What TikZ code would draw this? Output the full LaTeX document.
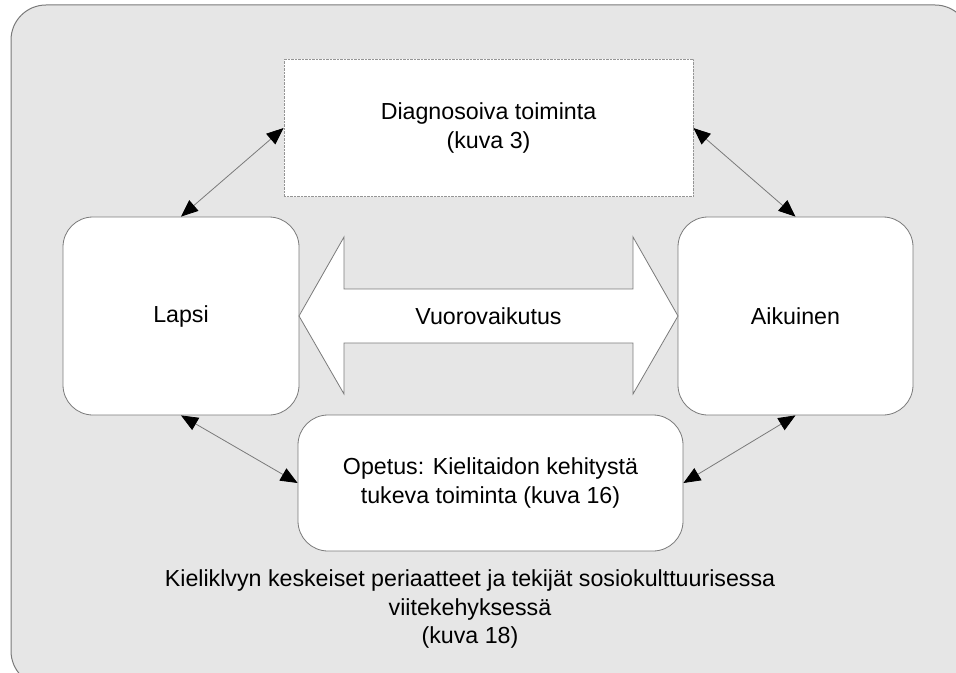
\documentclass[tikz,border=0pt]{standalone}
\usepackage{fontspec}
\setmainfont{Liberation Sans}
\usetikzlibrary{arrows.meta}
\definecolor{panel}{HTML}{E6E6E6}
\definecolor{edge}{HTML}{7A7A7A}
\begin{document}
\begin{tikzpicture}[x=1bp,y=-1bp,
  every node/.style={font=\fontsize{23.3}{29}\selectfont, align=center, inner sep=0pt},
  roundbox/.style={draw=edge, line width=0.8bp, fill=white, rounded corners=30bp},
  dotbox/.style={draw=edge!80, line width=0.8bp, fill=white, dash pattern=on 0.7bp off 0.7bp},
  link/.style={draw=edge, line width=0.8bp,
    {Triangle[length=17bp,width=14bp,color=black]}-{Triangle[length=17bp,width=14bp,color=black]}},
  bigarrow/.style={draw=edge, line width=0.8bp, fill=white}]
  \useasboundingbox (0,0) rectangle (956,673);
  % background panel
  \draw[edge, line width=1bp, fill=panel, rounded corners=35bp] (11,5) rectangle (970,686);

  % boxes
  \node[dotbox, minimum width=409bp, minimum height=137bp] (diag) at (488.5,128)
    {Diagnosoiva toiminta\\(kuva 3)};
  \node[roundbox, minimum width=236bp, minimum height=198bp] (lapsi) at (181,316) {Lapsi};
  \node[roundbox, minimum width=235bp, minimum height=198bp] (aikuinen) at (795.5,316) {Aikuinen};
  \node[roundbox, minimum width=385bp, minimum height=136bp] (opetus) at (490.5,483)
    {Opetus: Kielitaidon kehitystä\\tukeva toiminta (kuva 16)};

  % two-headed interaction arrow
  \coordinate (tl) at (299,316);
  \coordinate (tr) at (678,316);
  \draw[bigarrow] (tl) -- (344,237) -- (344,289) -- (633,289) -- (633,237) -- (tr)
    -- (633,394) -- (633,343) -- (344,343) -- (344,394) -- cycle;
  \node (vuoro) at (488.5,316) {Vuorovaikutus};

  % connectors
  \draw[link] (lapsi.north) -- (diag.west);
  \draw[link] (diag.east) -- (aikuinen.north);
  \draw[link] (lapsi.south) -- (opetus.west);
  \draw[link] (opetus.east) -- (aikuinen.south);

  % caption
  \node (caption) at (470,609)
    {Kieliklvyn keskeiset periaatteet ja tekijät sosiokulttuurisessa\\viitekehyksessä\\(kuva 18)};
\end{tikzpicture}
\end{document}
